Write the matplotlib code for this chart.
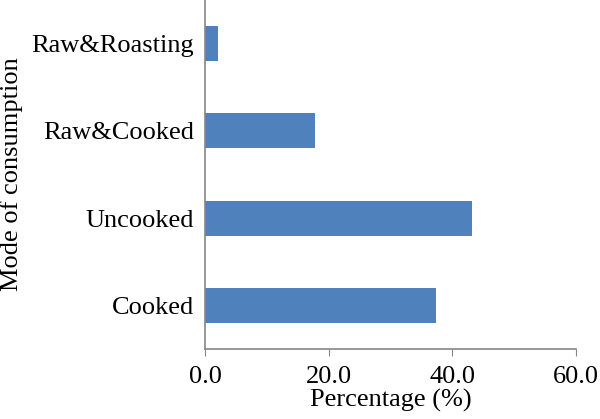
import matplotlib
matplotlib.use("Agg")
import matplotlib.pyplot as plt

categories = ["Cooked", "Uncooked", "Raw&Cooked", "Raw&Roasting"]
percentages = [37.3, 43.2, 17.7, 2.0]
x_ticks = [0, 20, 40, 60]

plt.rcParams["font.family"] = ["Liberation Serif", "DejaVu Serif"]

fig = plt.figure(figsize=(6, 4.19), dpi=100)
ax = fig.add_axes([0.342, 0.167, 0.618, 0.833])

ax.barh(range(len(categories)), percentages, height=0.4, color="#4F81BD")

ax.set_xlim(0, 60)
ax.set_ylim(-0.5, len(categories) - 0.5)
ax.set_xticks(x_ticks)
ax.set_xticklabels([f"{t:.1f}" for t in x_ticks])
ax.set_yticks(range(len(categories)))
ax.set_yticklabels(categories)

for side in ("top", "right"):
    ax.spines[side].set_visible(False)
for side in ("left", "bottom"):
    ax.spines[side].set_color("#868686")
    ax.spines[side].set_linewidth(1.2)

ax.tick_params(axis="x", direction="out", length=5, color="#868686", labelsize=19, pad=7)
ax.tick_params(axis="y", length=0, labelsize=19, pad=8)

ax.set_xlabel("Percentage (%)", fontsize=19, labelpad=1)
ax.set_ylabel("Mode of consumption", fontsize=19, labelpad=6)

fig.savefig("out.png", dpi=100, facecolor="white")
